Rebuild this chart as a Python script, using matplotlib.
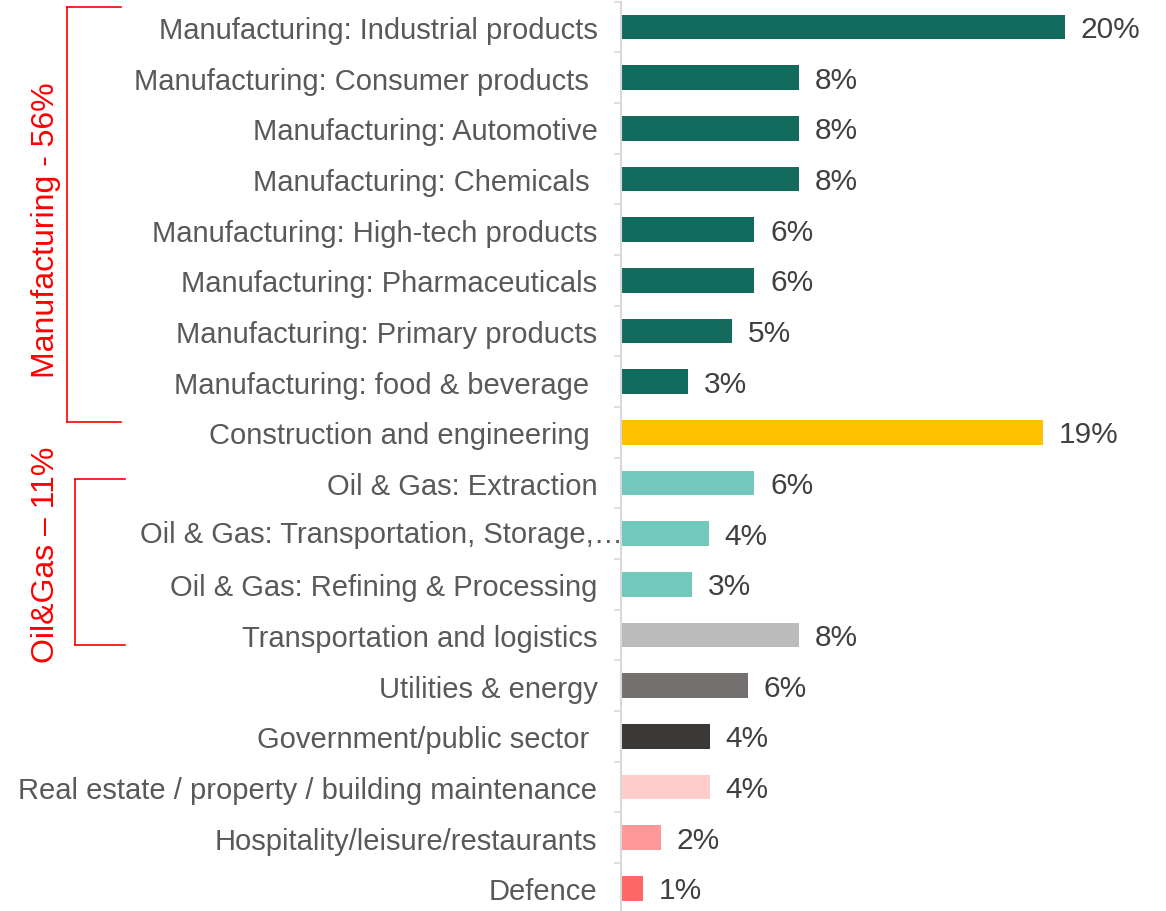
import numpy as np
import matplotlib
matplotlib.use('Agg')
import matplotlib.pyplot as plt
from matplotlib.lines import Line2D
from matplotlib.transforms import blended_transform_factory

plt.rcParams['font.family'] = ['Liberation Sans', 'DejaVu Sans']

# data (top to bottom)
categories = [
    "Manufacturing: Industrial products",
    "Manufacturing: Consumer products ",
    "Manufacturing: Automotive",
    "Manufacturing: Chemicals ",
    "Manufacturing: High-tech products",
    "Manufacturing: Pharmaceuticals",
    "Manufacturing: Primary products",
    "Manufacturing: food & beverage ",
    "Construction and engineering ",
    "Oil & Gas: Extraction",
    "Oil & Gas: Transportation, Storage,\u2026",
    "Oil & Gas: Refining & Processing",
    "Transportation and logistics",
    "Utilities & energy",
    "Government/public sector ",
    "Real estate / property / building maintenance",
    "Hospitality/leisure/restaurants",
    "Defence",
]
values = [20, 8, 8, 8, 6, 6, 5, 3, 19, 6, 3.95, 3.2, 8, 5.7, 4, 4, 1.8, 1.0]
colors = ["#136b5e"] * 8 + ["#ffc000"] + ["#72c9bb"] * 3 + \
         ["#bbbbbb", "#757070", "#3b3838", "#ffcccc", "#ff9999", "#ff6666"]
truncated = 10  # label that runs into the axis

fig = plt.figure(figsize=(11.66, 9.12), dpi=100)
ax = fig.add_axes([621 / 1166, -0.00285, 545 / 1166, 0.99989])

y = np.arange(len(categories))
ax.barh(y, values, height=0.49, color=colors)
ax.set_xlim(0, 24.55)
ax.set_ylim(len(categories) - 0.5, -0.5)

ticklabels = [c if i != truncated else "" for i, c in enumerate(categories)]
ax.set_yticks(y)
ax.set_yticklabels(ticklabels, fontsize=21, color="#595959")
ax.tick_params(axis='y', which='major', length=0, pad=17)
ax.set_yticks(np.arange(-0.5, len(categories), 1), minor=True)
ax.tick_params(axis='y', which='minor', length=5, width=1.2, color="#d9d9d9")
ax.set_xticks([])
for s in ["top", "right", "bottom"]:
    ax.spines[s].set_visible(False)
ax.spines["left"].set_color("#d9d9d9")
ax.spines["left"].set_linewidth(1.5)

ax.text(0.1, truncated, categories[truncated], ha='right', va='center',
        fontsize=21, color="#595959")

for i, v in enumerate(values):
    ax.annotate(f"{round(v):.0f}%", xy=(v, i), xytext=(11.5, -1.5),
                textcoords="offset points", ha='left', va='center',
                fontsize=21.5, color="#404040")

# red group brackets
tr = blended_transform_factory(fig.transFigure, ax.transData)
red = "#ff0000"
def bracket(x0, x1, ytop, ybot):
    for xs, ys in [([x0, x0], [ytop, ybot]), ([x0, x1], [ytop, ytop]), ([x0, x1], [ybot, ybot])]:
        fig.add_artist(Line2D(xs, ys, transform=tr, color=red, lw=1.2))

bracket(67 / 1166, 121 / 1166, -0.4, 7.8)
bracket(75 / 1166, 125 / 1166, 8.93, 12.19)
ax.text(46 / 1166, 4.0, "Manufacturing - 56%", transform=tr, rotation=90,
        ha='center', va='center', fontsize=23, color=red)
ax.text(46 / 1166, 10.4, "Oil&Gas \u2013 11%", transform=tr, rotation=90,
        ha='center', va='center', fontsize=23, color=red)

plt.savefig("out.png", dpi=100)
plt.close(fig)
